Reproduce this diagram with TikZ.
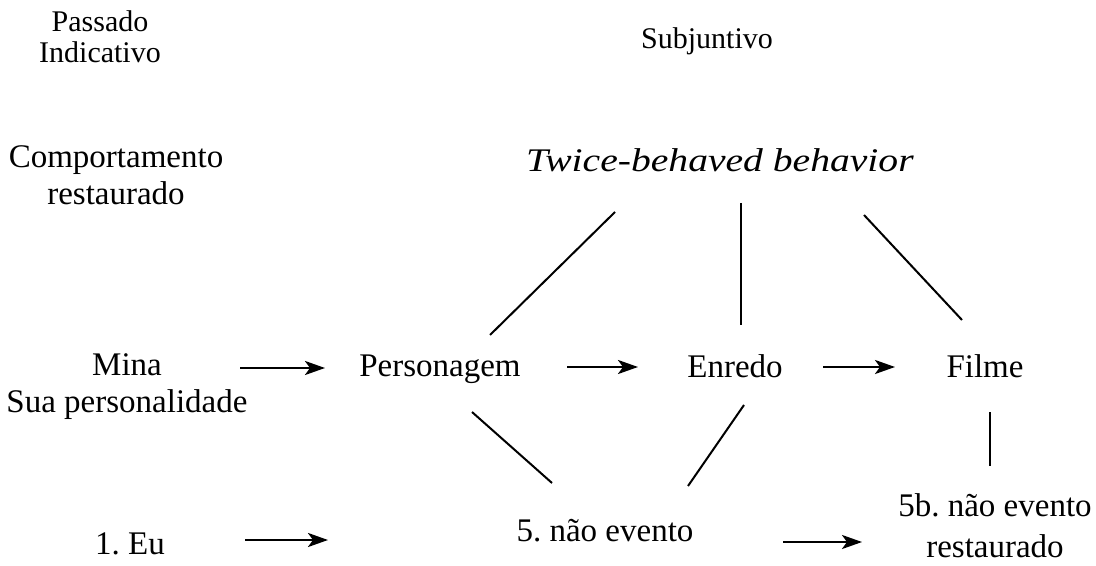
\documentclass[tikz,border=0pt]{standalone}
\usepackage{fontspec}
\setmainfont{Liberation Serif}
\usetikzlibrary{arrows.meta,calc}

\tikzset{
  lbl/.style={inner sep=0pt, align=center, font=\fontsize{16.5}{18.5}\selectfont\frenchspacing},
  hdr/.style={inner sep=0pt, align=center, font=\fontsize{15}{15.5}\selectfont},
  link/.style={line width=1pt},
  flow/.style={line width=1.3pt, -{Stealth[length=10pt,width=7pt,inset=2.5pt]}}
}

\begin{document}
\begin{tikzpicture}[x=0.5pt, y=-0.5pt]
    \useasboundingbox (0,0) rectangle (1096,566);

    % Headings
    \node[hdr] (passado) at (100,37) {Passado\\Indicativo};
    \node[hdr] (subj) at (707,41) {Subjuntivo};
    \node[lbl] (comp) at (116,175) {Comportamento\\restaurado};
    \node[lbl] (twice) at (720,160) {\scalebox{1.2}[1]{\textit{Twice-behaved behavior}}};

    % Middle row
    \node[lbl] (mina) at (127,387) {Mina\\Sua personalidade};
    \node[lbl] (pers) at (440,369) {Personagem};
    \node[lbl] (enredo) at (735,366) {Enredo};
    \node[lbl] (filme) at (985,366) {Filme};

    % Bottom row
    \node[lbl] (eu) at (130,544) {1. Eu};
    \node[lbl] (naoev) at (605,531) {5. não evento};
    \node[lbl,font=\fontsize{16.5}{20.5}\selectfont\frenchspacing] (naoevr) at (995,526) {5b. não evento\\restaurado};

    % Lines from twice-behaved behavior
    \draw[link] ($(twice)+(-105,52)$) -- ($(pers)+(50,-34)$);
    \draw[link] ($(twice)+(21,43)$) -- ($(enredo)+(6,-41)$);
    \draw[link] ($(twice)+(144,55)$) -- ($(filme)+(-23,-46)$);

    % Lines down to the non-events
    \draw[link] ($(pers)+(32,43)$) -- ($(naoev)+(-53,-48)$);
    \draw[link] ($(enredo)+(9,39)$) -- ($(naoev)+(83,-45)$);
    \draw[link] ($(filme)+(5,46)$) -- ($(naoevr)+(-5,-60)$);

    % Arrows
    \draw[flow] ($(mina)+(113,-19)$) -- ($(pers)+(-115,-1)$);
    \draw[flow] ($(pers)+(127,-2)$) -- ($(enredo)+(-97,1)$);
    \draw[flow] ($(enredo)+(88,1)$) -- ($(filme)+(-90,1)$);
    \draw[flow] ($(eu)+(115,-4)$) -- ($(naoev)+(-277,9)$);
    \draw[flow] ($(naoev)+(178,11)$) -- ($(naoevr)+(-133,16)$);
\end{tikzpicture}
\end{document}
